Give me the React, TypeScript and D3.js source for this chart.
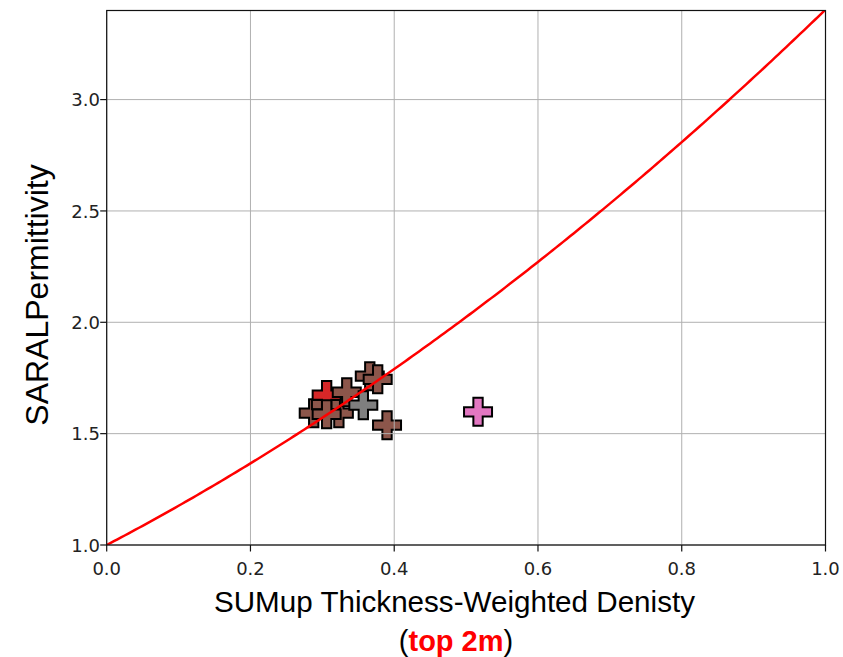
import React from "react";
import * as d3 from "d3";

// ---- data, in drawing order ----
const densities = [0.288, 0.323, 0.305, 0.306, 0.306, 0.334, 0.366, 0.377, 0.390, 0.357, 0.5166];
const permittivities = [1.592, 1.592, 1.630, 1.673, 1.587, 1.686, 1.758, 1.744, 1.538, 1.628, 1.598];
const pointColors = [
  "#8c564b", "#8c564b", "#8c564b", "#d62728", "#8c564b", "#8c564b",
  "#8c564b", "#8c564b", "#8c564b", "#7f7f7f", "#e377c2",
];
const xTicks = [0.0, 0.2, 0.4, 0.6, 0.8, 1.0];
const yTicks = [1.0, 1.5, 2.0, 2.5, 3.0];
const xDomain = [0, 1];
const yDomain = [1, 3.4];
// Kovacs-type model curve eps = (1 + K*rho)^2
const MODEL_K = 0.845;

const W = 843;
const H = 657;
const left = 106.7;
const right = 825.5;
const top = 10.5;
const bottom = 545;

export default function App() {
  const x = d3.scaleLinear().domain(xDomain).range([left, right]);
  const y = d3.scaleLinear().domain(yDomain).range([bottom, top]);

  const curveRho = d3.range(0, 1.0001, 0.005);
  const line = d3
    .line<number>()
    .x((r) => x(r))
    .y((r) => y((1 + MODEL_K * r) ** 2));

  const h = 14;
  const a = h / 3;
  const plusPath = `M${-a},${-h}H${a}V${-a}H${h}V${a}H${a}V${h}H${-a}V${a}H${-h}V${-a}H${-a}Z`;

  const tickFont = "'DejaVu Sans', sans-serif";
  const labelFont = "'Liberation Sans', Arial, sans-serif";

  return (
    <svg
      width={W}
      height={H}
      style={{ position: "absolute", left: 0, top: 0, background: "#fff" }}
    >
      <defs>
        <clipPath id="plotclip">
          <rect x={left} y={top} width={right - left} height={bottom - top} />
        </clipPath>
      </defs>
      <rect x={0} y={0} width={W} height={H} fill="#fff" />

      {/* markers (scatter below grid, like matplotlib) */}
      <g clipPath="url(#plotclip)">
        {densities.map((d, i) => (
          <path
            key={i}
            d={plusPath}
            transform={`translate(${x(d)},${y(permittivities[i])})`}
            fill={pointColors[i]}
            stroke="#000"
            strokeWidth={2}
            strokeLinejoin="miter"
          />
        ))}
      </g>

      {/* grid */}
      <g stroke="#b0b0b0" strokeWidth={1}>
        {xTicks.map((t) => (
          <line key={"gx" + t} x1={x(t)} x2={x(t)} y1={top} y2={bottom} />
        ))}
        {yTicks.map((t) => (
          <line key={"gy" + t} x1={left} x2={right} y1={y(t)} y2={y(t)} />
        ))}
      </g>

      {/* model curve */}
      <path
        d={line(curveRho) || ""}
        fill="none"
        stroke="#ff0000"
        strokeWidth={2.5}
        clipPath="url(#plotclip)"
      />

      {/* spines */}
      <rect
        x={left}
        y={top}
        width={right - left}
        height={bottom - top}
        fill="none"
        stroke="#111"
        strokeWidth={1.2}
      />

      {/* x ticks */}
      {xTicks.map((t) => (
        <g key={"xt" + t}>
          <line x1={x(t)} x2={x(t)} y1={bottom} y2={bottom + 6.5} stroke="#111" strokeWidth={1.2} />
          <text
            x={x(t)}
            y={575}
            textAnchor="middle"
            fontFamily={tickFont}
            fontSize={18}
            fill="#222"
          >
            {t.toFixed(1)}
          </text>
        </g>
      ))}

      {/* y ticks */}
      {yTicks.map((t) => (
        <g key={"yt" + t}>
          <line x1={left - 6.5} x2={left} y1={y(t)} y2={y(t)} stroke="#111" strokeWidth={1.2} />
          <text
            x={100}
            y={y(t) + 6.6}
            textAnchor="end"
            fontFamily={tickFont}
            fontSize={18}
            fill="#222"
          >
            {t.toFixed(1)}
          </text>
        </g>
      ))}

      {/* axis labels */}
      <text
        x={454.5}
        y={611.7}
        textAnchor="middle"
        fontFamily={labelFont}
        fontSize={29}
        fill="#000"
        textLength={481}
        lengthAdjust="spacingAndGlyphs"
      >
        SUMup Thickness-Weighted Denisty
      </text>
      <text
        x={456}
        y={651}
        textAnchor="middle"
        fontFamily={labelFont}
        fontSize={29}
        fill="#000"
      >
        (
        <tspan fill="#ff0000" fontWeight="bold">
          top 2m
        </tspan>
        )
      </text>
      <text
        transform={`translate(47.7,295) rotate(-90)`}
        textAnchor="middle"
        fontFamily={labelFont}
        fontSize={32}
        fill="#000"
      >
        SARALPermittivity
      </text>
    </svg>
  );
}
